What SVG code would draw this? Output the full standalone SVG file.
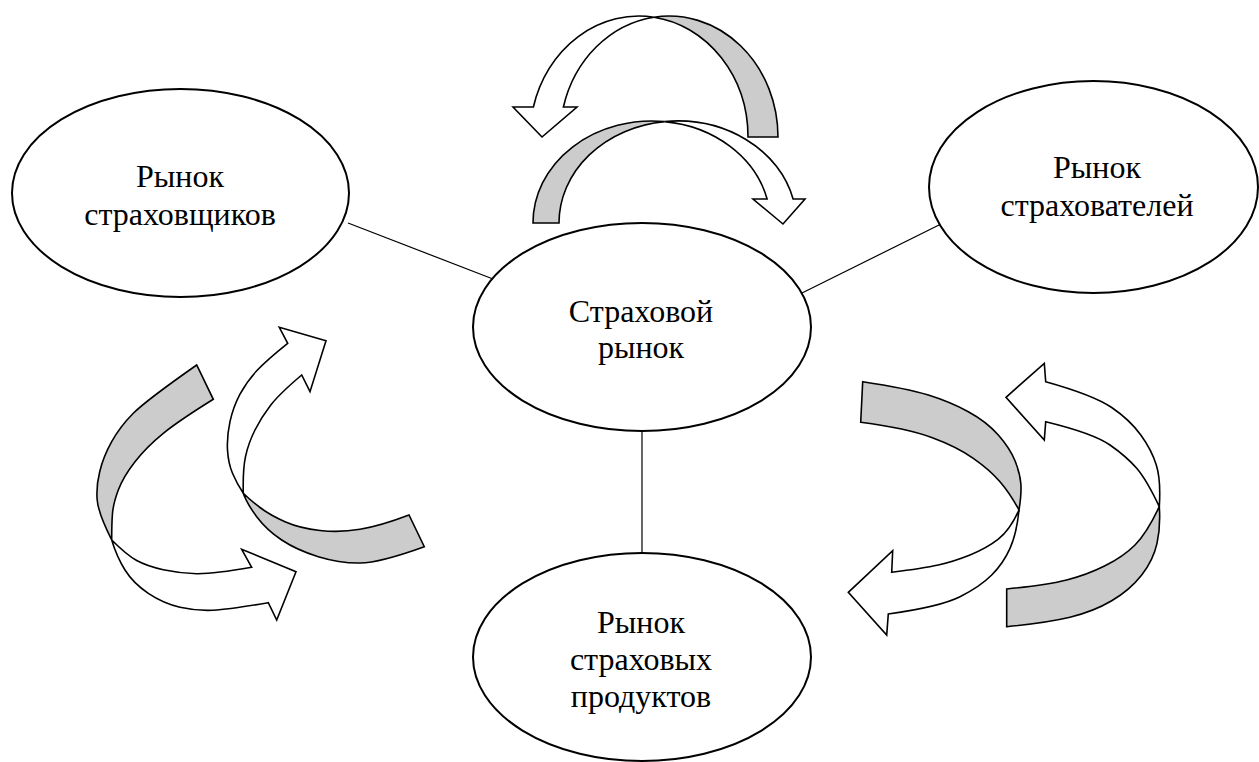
<svg xmlns="http://www.w3.org/2000/svg" width="1259" height="762" viewBox="0 0 1259 762">
<style>
.node{fill:#fff;stroke:#000;stroke-width:2}
.lbl{font-family:"Liberation Serif","Times New Roman",serif;font-size:32px;fill:#000;text-anchor:middle}
.conn{stroke:#000;stroke-width:1.2;fill:none}
.ga{fill:#cccccc;stroke:#000;stroke-width:1.6;stroke-linejoin:miter}
.wa{fill:#fff;stroke:#000;stroke-width:1.6;stroke-linejoin:miter}
</style>
<rect width="1259" height="762" fill="#fff"/>
<g id="connectors">
<line class="conn" x1="348" y1="223" x2="493" y2="279"/>
<line class="conn" x1="802" y1="293" x2="941" y2="224"/>
<line class="conn" x1="642" y1="431" x2="642" y2="553"/>
</g>
<g id="node-insurers">
<ellipse class="node" cx="180.5" cy="193" rx="168.5" ry="104"/>
<text class="lbl" x="180" y="187">Рынок</text>
<text class="lbl" x="180" y="225">страховщиков</text>
</g>
<g id="node-policyholders">
<ellipse class="node" cx="1093.5" cy="187" rx="164.5" ry="106"/>
<text class="lbl" x="1097" y="178">Рынок</text>
<text class="lbl" x="1097" y="216">страхователей</text>
</g>
<g id="node-market">
<ellipse class="node" cx="642" cy="327" rx="169" ry="104"/>
<text class="lbl" x="641" y="322">Страховой</text>
<text class="lbl" x="641" y="358">рынок</text>
</g>
<g id="node-products">
<ellipse class="node" cx="642" cy="657" rx="169" ry="104"/>
<text class="lbl" x="641" y="633">Рынок</text>
<text class="lbl" x="641" y="670">страховых</text>
<text class="lbl" x="641" y="707">продуктов</text>
</g>
<g id="arrows">
<path class="ga" d="M778,137 A109,121 0 0 0 654,17.2 A109,121 0 0 1 748,137 Z"/>
<path class="wa" d="M533.4,107 A109,121 0 0 1 654,17.2 A109,121 0 0 0 563.4,107 L577,107 L542,137 L513,107 Z"/>
<path class="ga" d="M533,223 A118.7,102 0 0 1 664.7,121.6 A118.7,102 0 0 0 559,223 Z"/>
<path class="wa" d="M664.7,121.6 A118.7,102 0 0 1 793.1,199 L805,199 L783,224 L753,199 L767.1,199 A118.7,102 0 0 0 664.7,121.6 Z"/>
<path class="ga" d="M196.7,365 Q146.7,400 133.3,413.3 Q120,426.7 111.7,441.7 Q103.3,456.7 99.7,471.7 Q96,486.7 97.2,500 Q98.3,513.3 111.7,540 Q111.7,523.3 112.5,513.3 Q113.3,503.3 118.3,490 Q123.3,476.7 135,461.7 Q146.7,446.7 163.3,433.3 Q180,420 213.3,399.3 Z"/>
<path class="wa" d="M111.7,540 Q126.7,555 136.7,560.5 Q146.7,566 163.3,569.7 Q180,573.3 196.7,573.7 Q213.3,574 251.7,567.3 L241.7,549.3 L296,571.7 L276.7,620 L268.3,602.7 Q230,609.3 213.3,610.2 Q196.7,611 180,607.2 Q163.3,603.3 148.3,593.3 Q133.3,583.3 125,570 Q116.7,556.7 111.7,540 Z"/>
<path class="wa" d="M243.3,493.3 Q236.7,483.3 232.5,473.3 Q228.3,463.3 227.5,450 Q226.7,436.7 230,421.7 Q233.3,406.7 240,394.2 Q246.7,381.7 256.7,370.8 Q266.7,360 287.7,343.3 L279.3,327.3 L326,340.7 L310,391.7 L301.7,375 Q280,393.3 270.8,405 Q261.7,416.7 255,430 Q248.3,443.3 245.5,456.7 Q242.7,470 243.3,493.3 Z"/>
<path class="ga" d="M243.3,493.3 Q246.7,503.3 256.7,516.7 Q266.7,530 281.7,540 Q296.7,550 318.3,556.7 Q340,563.3 360,563 Q380,562.7 424.3,546.7 L409,515 Q380,526 360,529.3 Q340,532.7 320,530.5 Q300,528.3 285,521.7 Q270,515 260,507.5 Q250,500 243.3,493.3 Z"/>
<path class="ga" d="M862.7,381.7 Q906.7,388.3 928.3,395 Q950,401.7 968.3,411.7 Q986.7,421.7 998.3,435 Q1010,448.3 1015,460.8 Q1020,473.3 1020.8,483.3 Q1021.7,493.3 1019,510 Q1010,493.3 1000,481.7 Q990,470 973.3,458.3 Q956.7,446.7 931.7,437.5 Q906.7,428.3 860.7,422.3 Z"/>
<path class="wa" d="M1019,510 Q1010,530 998.3,539.2 Q986.7,548.3 970,555 Q953.3,561.7 938.3,565 Q923.3,568.3 891.7,572.3 L892.7,550.7 L848.3,592.3 L886.7,635 L888.3,614 Q940,606.7 960,596.7 Q980,586.7 991.7,575 Q1003.3,563.3 1010,548.3 Q1016.7,533.3 1019,510 Z"/>
<path class="wa" d="M1159.3,506.7 Q1161,480 1156.3,465 Q1151.7,450 1140.8,435 Q1130,420 1111.7,407.5 Q1093.3,395 1045.7,381.7 L1044.3,363.3 L1006,397.3 L1044.3,440 L1045.7,421.7 Q1093.3,433.3 1110,445 Q1126.7,456.7 1136.7,468.3 Q1146.7,480 1159.3,506.7 Z"/>
<path class="ga" d="M1159.3,506.7 Q1160.7,526.7 1157,543.3 Q1153.3,560 1141.7,575 Q1130,590 1111.7,600.8 Q1093.3,611.7 1070,617.2 Q1046.7,622.7 1006.7,626.7 L1006.7,589 Q1046.7,585 1066.7,580 Q1086.7,575 1105,565.8 Q1123.3,556.7 1135,545 Q1146.7,533.3 1159.3,506.7 Z"/>
</g>
</svg>
